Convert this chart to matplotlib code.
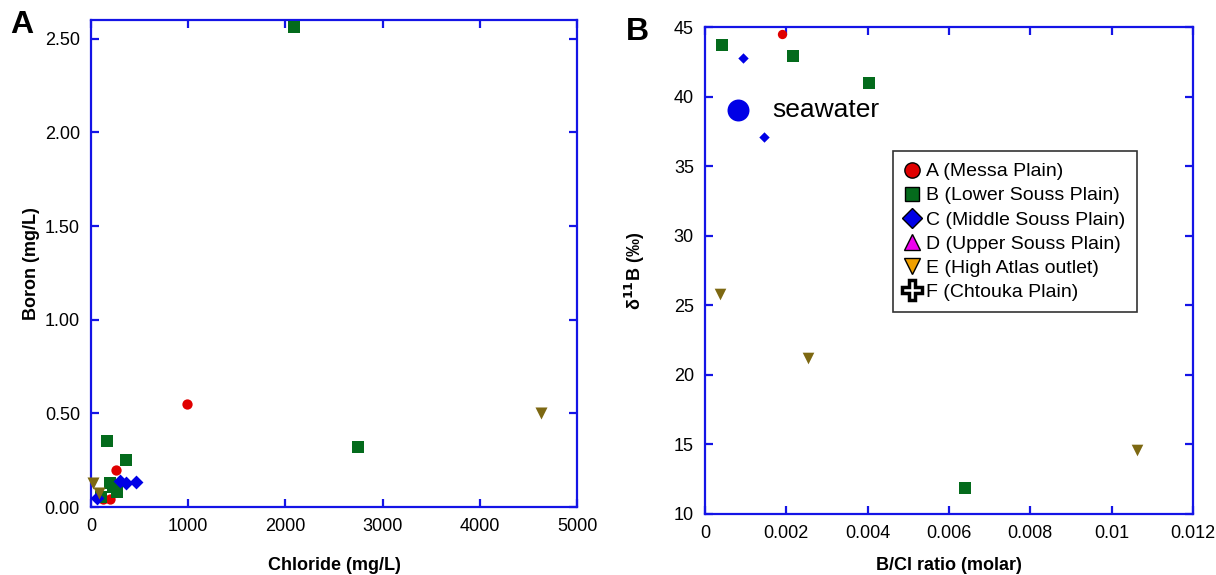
import matplotlib
matplotlib.use("Agg")
import matplotlib.pyplot as plt
from matplotlib.lines import Line2D

plt.rcParams['font.family'] = ['Liberation Sans', 'DejaVu Sans']

# Panel A: chloride vs boron (mg/L), per group
cl_A = [988, 254, 123, 195]
b_A = [0.55, 0.197, 0.043, 0.043]
cl_B = [2088, 2747, 165, 360, 196, 226, 267, 103]
b_B = [2.565, 0.32, 0.35, 0.25, 0.128, 0.107, 0.08, 0.053]
cl_C = [298, 360, 463, 62]
b_C = [0.139, 0.128, 0.134, 0.048]
cl_E = [4630, 21, 82]
b_E = [0.50, 0.128, 0.075]

# Panel B: B/Cl molar ratio vs delta 11B (permil)
r_A = [0.00189]
d_A = [44.5]
r_B = [0.00041, 0.00216, 0.00404, 0.0064]
d_B = [43.7, 42.9, 41.0, 11.9]
r_C = [0.00093, 0.00145]
d_C = [42.8, 37.1]
r_E = [0.00037, 0.00253, 0.01063]
d_E = [25.8, 21.2, 14.6]
r_sea = [0.00082]
d_sea = [39.0]

groups = ["A (Messa Plain)", "B (Lower Souss Plain)", "C (Middle Souss Plain)",
          "D (Upper Souss Plain)", "E (High Atlas outlet)", "F (Chtouka Plain)"]

red = "#e00000"
green = "#046b1c"
blue = "#0000e6"
olive = "#7d6812"
frame = "#1414e6"

fig = plt.figure(figsize=(12.16, 5.75), dpi=100)
axA = fig.add_axes([91/1216, 68/575, 486/1216, 487/575])
axB = fig.add_axes([705/1216, 61/575, 488/1216, 487/575])


def style(ax):
    for s in ax.spines.values():
        s.set_color(frame)
        s.set_linewidth(1.6)
    ax.tick_params(direction="in", length=6, width=1.6, color=frame,
                   top=True, right=True, labelsize=13, pad=8)


# left panel
axA.scatter(cl_A, b_A, s=55, marker="o", color=red, lw=0, clip_on=False, zorder=3)
axA.scatter(cl_B, b_B, s=70, marker="s", color=green, lw=0, clip_on=False, zorder=3)
axA.scatter(cl_C, b_C, s=50, marker="D", color=blue, lw=0, clip_on=False, zorder=3)
axA.scatter(cl_E, b_E, s=75, marker="v", color=olive, lw=0, clip_on=False, zorder=3)
axA.set_xlim(0, 5000)
axA.set_ylim(0, 2.6)
axA.set_xticks([0, 1000, 2000, 3000, 4000, 5000])
axA.set_yticks([0, 0.5, 1.0, 1.5, 2.0, 2.5])
axA.set_yticklabels(["%.2f" % v for v in [0, 0.5, 1.0, 1.5, 2.0, 2.5]])
axA.set_xlabel("Chloride (mg/L)", fontsize=13, fontweight="bold")
axA.set_ylabel("Boron (mg/L)", fontsize=13, fontweight="bold")
axA.xaxis.set_label_coords(0.5, -0.102)
axA.yaxis.set_label_coords(-0.105, 0.5)
style(axA)

# right panel
axB.scatter(r_A, d_A, s=45, marker="o", color=red, lw=0, clip_on=False, zorder=3)
axB.scatter(r_B, d_B, s=65, marker="s", color=green, lw=0, clip_on=False, zorder=3)
axB.scatter(r_C, d_C, s=28, marker="D", color=blue, lw=0, clip_on=False, zorder=3)
axB.scatter(r_E, d_E, s=70, marker="v", color=olive, lw=0, clip_on=False, zorder=3)
axB.scatter(r_sea, d_sea, s=250, marker="o", color=blue, lw=0, zorder=3)
axB.text(0.00165, 39.0, "seawater", fontsize=19, va="center", ha="left")
axB.set_xlim(0, 0.012)
axB.set_ylim(10, 45)
axB.set_xticks([0, 0.002, 0.004, 0.006, 0.008, 0.01, 0.012])
axB.set_xticklabels(["0", "0.002", "0.004", "0.006", "0.008", "0.01", "0.012"])
axB.set_yticks([10, 15, 20, 25, 30, 35, 40, 45])
axB.set_xlabel("B/Cl ratio (molar)", fontsize=13, fontweight="bold")
axB.set_ylabel(r"δ$^{\bf 11}$B (‰)", fontsize=13, fontweight="bold")
axB.xaxis.set_label_coords(0.5, -0.088)
axB.yaxis.set_label_coords(-0.118, 0.5)
style(axB)

handles = [
    Line2D([], [], ls="", marker="o", ms=11, mfc=red, mec="k", mew=1),
    Line2D([], [], ls="", marker="s", ms=10, mfc=green, mec="k", mew=1),
    Line2D([], [], ls="", marker="D", ms=10, mfc=blue, mec="k", mew=1),
    Line2D([], [], ls="", marker="^", ms=11, mfc="#ee00ee", mec="k", mew=1),
    Line2D([], [], ls="", marker="v", ms=11, mfc="#f0a000", mec="k", mew=1),
    Line2D([], [], ls="", marker="P", ms=14, mfc="white", mec="k", mew=2.5),
]
leg = axB.legend(handles, groups, loc="upper left", bbox_to_anchor=(0.385, 0.745),
                 fontsize=14, frameon=True, fancybox=False, handlelength=0.8,
                 handletextpad=0.3, borderpad=0.6, labelspacing=0.33, borderaxespad=0)
leg.get_frame().set_edgecolor("black")
leg.get_frame().set_linewidth(1.2)

fig.text(10/1216, 1 - 25/575, "A", fontsize=23, fontweight="bold", va="center")
fig.text(626/1216, 1 - 32/575, "B", fontsize=23, fontweight="bold", va="center")

fig.savefig("out.png", dpi=100)
